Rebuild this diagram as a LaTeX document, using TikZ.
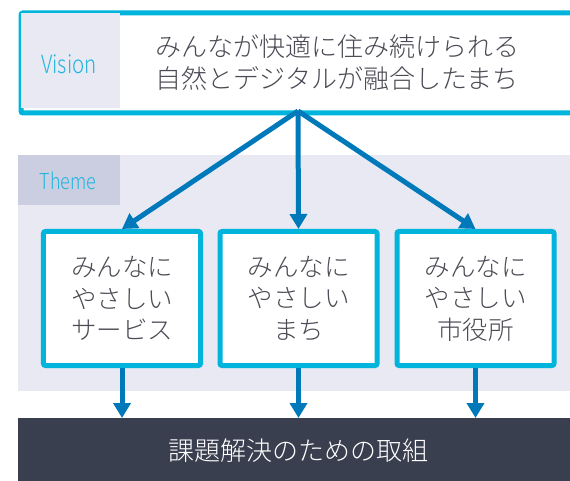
\documentclass[tikz,border=0pt]{standalone}
\usepackage{fontspec}
\setmainfont{Noto Sans CJK JP}[UprightFont={* Light}]
\newfontfamily\latn{Noto Sans CJK JP}[UprightFont={* Light},FakeStretch=0.82]
\usetikzlibrary{arrows.meta}
\definecolor{cyanb}{HTML}{00B4DC}
\definecolor{arrowb}{HTML}{0079BA}
\definecolor{lav}{HTML}{E8E9F2}
\definecolor{lavd}{HTML}{CBCEE0}
\definecolor{darkbar}{HTML}{3A3F4F}
\definecolor{txt}{HTML}{4A4A54}
\definecolor{lbl}{HTML}{22B5DE}
\tikzset{
  themebox/.style={draw=cyanb, line width=5bp, fill=white, rounded corners=2bp,
    minimum width=157bp, minimum height=134bp, inner sep=0pt, align=center,
    text=txt, font=\fontsize{25.5bp}{31.5bp}\selectfont},
  conn/.style={draw=arrowb, line width=5bp, -{Triangle[width=17bp,length=15bp]}},
  lbltext/.style={text=lbl, inner sep=0pt}
}
\begin{document}
\begin{tikzpicture}[x=1bp,y=-1bp]
\useasboundingbox (0,0) rectangle (570,481);
\fill[white] (0,0) rectangle (570,481);
% theme background
\fill[lav] (18,155) rectangle (575,391);
\fill[lavd] (18,155) rectangle (120,205);
\node[lbltext, font=\latn\fontsize{22bp}{26bp}\selectfont] (themelbl) at (68,181) {Theme};
% bottom bar
\node[fill=darkbar, minimum width=557bp, minimum height=63bp, inner sep=0pt, anchor=north west,
  text=white, font=\fontsize{26bp}{30bp}\selectfont] (bar) at (18,418) {};
\node[text=white, inner sep=0pt, font=\fontsize{26bp}{30bp}\selectfont] (bartext) at (298.5,451) {課題解決のための取組};
% theme boxes
\node[themebox] (b1) at (122,298.5) {みんなに\\やさしい\\サービス};
\node[themebox] (b2) at (298.5,298.5) {みんなに\\やさしい\\まち};
\node[themebox] (b3) at (475.5,298.5) {みんなに\\やさしい\\市役所};
% vision box
\node[draw=cyanb, line width=5bp, fill=white, rounded corners=2bp, minimum width=557bp,
  minimum height=100bp, inner sep=0pt, anchor=north west] (vision) at (18.5,10.5) {};
\fill[lav] (21,13) rectangle (120,108);
\node[lbltext, font=\latn\fontsize{25bp}{30bp}\selectfont] (visionlbl) at (69,64) {Vision};
\node[text=txt, inner sep=0pt, align=center, font=\fontsize{26bp}{32bp}\selectfont] (visiontext) at (337,63) {みんなが快適に住み続けられる\\自然とデジタルが融合したまち};
% arrows
\coordinate (vs) at (298,111);
\draw[conn] (vs) -- (b1.north);
\draw[conn] (vs) -- (b2.north);
\draw[conn] (vs) -- (b3.north);
\draw[conn] (b1.south) -- (b1.south |- bar.north);
\draw[conn] (b2.south) -- (b2.south |- bar.north);
\draw[conn] (b3.south) -- (b3.south |- bar.north);
\end{tikzpicture}
\end{document}
